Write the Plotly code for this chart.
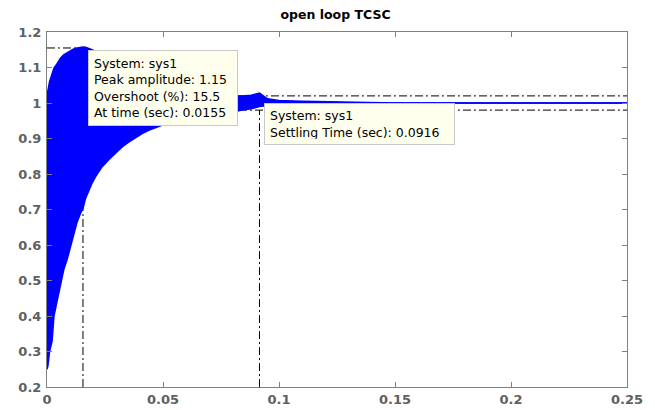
import plotly.graph_objects as go

# ---- data ----
t_env = [0, 0.0004, 0.0011, 0.0022, 0.003, 0.0045, 0.0058, 0.0072, 0.0087, 0.0101,
         0.0115, 0.013, 0.0145, 0.0155, 0.0166, 0.018, 0.0194, 0.0209, 0.0223, 0.0237,
         0.0266, 0.0295, 0.0324, 0.0352, 0.0381, 0.041, 0.0438, 0.0467, 0.0495, 0.055,
         0.06, 0.065, 0.07, 0.075, 0.08, 0.084, 0.088, 0.0916, 0.095, 0.1,
         0.11, 0.12, 0.13, 0.14, 0.15, 0.2, 0.25]
y_upper = [1.03, 1.035, 1.06, 1.085, 1.098, 1.112, 1.126, 1.136, 1.142, 1.148,
           1.152, 1.155, 1.157, 1.158, 1.157, 1.154, 1.15, 1.145, 1.14, 1.134,
           1.12, 1.105, 1.09, 1.078, 1.067, 1.057, 1.05, 1.044, 1.04, 1.034,
           1.03, 1.027, 1.024, 1.022, 1.02, 1.02, 1.022, 1.028, 1.012, 1.007,
           1.005, 1.004, 1.003, 1.001, 1.0, 1.0, 1.0]
y_lower = [0.25, 0.26, 0.30, 0.33, 0.40, 0.45, 0.49, 0.53, 0.56, 0.595,
           0.63, 0.665, 0.69, 0.703, 0.731, 0.754, 0.774, 0.792, 0.806, 0.82,
           0.84, 0.859, 0.876, 0.89, 0.902, 0.914, 0.923, 0.93, 0.937, 0.945,
           0.952, 0.958, 0.963, 0.968, 0.974, 0.98, 0.984, 0.99, 0.993, 0.995,
           0.997, 0.998, 0.999, 0.9995, 1.0, 1.0, 1.0]

peak_time = 0.0155
peak_amp = 1.155
overshoot = 15.5
settle_time = 0.0916
settle_val = 0.98
settle_band = [1.02, 0.98]

x_ticks = [0, 0.05, 0.1, 0.15, 0.2, 0.25]
x_ticktext = ["0", "0.05", "0.1", "0.15", "0.2", "0.25"]
y_ticks = [0.2, 0.3, 0.4, 0.5, 0.6, 0.7, 0.8, 0.9, 1.0, 1.1, 1.2]
y_ticktext = ["0.2", "0.3", "0.4", "0.5", "0.6", "0.7", "0.8", "0.9", "1", "1.1", "1.2"]

X_RANGE = [0, 0.25]
Y_RANGE = [0.2, 1.2]

fig = go.Figure()

dash_style = "8px,3px,2px,3px"
# characteristic lines (beneath response)
for lvl in settle_band:
    fig.add_trace(go.Scatter(x=[X_RANGE[0], X_RANGE[1]], y=[lvl, lvl], mode="lines",
                             line=dict(color="black", width=1, dash=dash_style),
                             hoverinfo="skip", showlegend=False))
fig.add_trace(go.Scatter(x=[X_RANGE[0], peak_time], y=[peak_amp, peak_amp], mode="lines",
                         line=dict(color="black", width=1, dash=dash_style),
                         hoverinfo="skip", showlegend=False))
fig.add_trace(go.Scatter(x=[peak_time, peak_time], y=[Y_RANGE[0], peak_amp], mode="lines",
                         line=dict(color="black", width=1, dash=dash_style),
                         hoverinfo="skip", showlegend=False))
fig.add_trace(go.Scatter(x=[settle_time, settle_time], y=[Y_RANGE[0], settle_val], mode="lines",
                         line=dict(color="black", width=1, dash=dash_style),
                         hoverinfo="skip", showlegend=False))

# response band
fig.add_trace(go.Scatter(x=t_env, y=y_lower, mode="lines",
                         line=dict(color="#0000ff", width=1.5),
                         hoverinfo="skip", showlegend=False))
fig.add_trace(go.Scatter(x=t_env, y=y_upper, mode="lines", fill="tonexty",
                         fillcolor="#0000ff",
                         line=dict(color="#0000ff", width=1.5),
                         hoverinfo="skip", showlegend=False))

tip_font = dict(family="DejaVu Sans", size=12.5, color="black")
fig.add_annotation(
    x=0.01786, y=1.148, xref="x", yref="y", xanchor="left", yanchor="top",
    text=("System: sys1<br>Peak amplitude: %.2f<br>Overshoot (%%): %.1f<br>At time (sec): %.4f"
          % (1.15, overshoot, peak_time)),
    showarrow=False, align="left", font=tip_font,
    bgcolor="#ffffee", bordercolor="#c8c8c8", borderwidth=1, borderpad=5,
    width=138, height=64)
fig.add_annotation(
    x=0.0934, y=1.0, xref="x", yref="y", xanchor="left", yanchor="top",
    text="System: sys1<br>Settling Time (sec): %.4f" % settle_time,
    showarrow=False, align="left", font=tip_font,
    bgcolor="#ffffee", bordercolor="#c8c8c8", borderwidth=1, borderpad=5,
    width=179, height=30)

axis_common = dict(showline=True, linecolor="#808080", linewidth=1, mirror="ticks",
                   ticks="inside", ticklen=5, tickcolor="#808080", showgrid=False,
                   zeroline=False, automargin=False,
                   tickfont=dict(family="DejaVu Sans", size=13, color="#606060", weight="bold"))
fig.update_xaxes(range=X_RANGE, tickvals=x_ticks, ticktext=x_ticktext, **axis_common)
fig.update_yaxes(range=Y_RANGE, tickvals=y_ticks, ticktext=y_ticktext, ticklabelstandoff=2,
                 **axis_common)

# the page body adds an 8px offset; margins compensate so the plot lands where the reference has it
fig.update_layout(
    width=655, height=410,
    margin=dict(l=39, r=36, t=24, b=31),
    paper_bgcolor="white", plot_bgcolor="white",
    title=dict(text="open loop TCSC", x=0.5, xanchor="center", y=0.983, yanchor="middle",
               automargin=False,
               font=dict(family="DejaVu Sans", size=12.5, color="black", weight="bold")),
    showlegend=False,
)

fig.write_html("out.html")
